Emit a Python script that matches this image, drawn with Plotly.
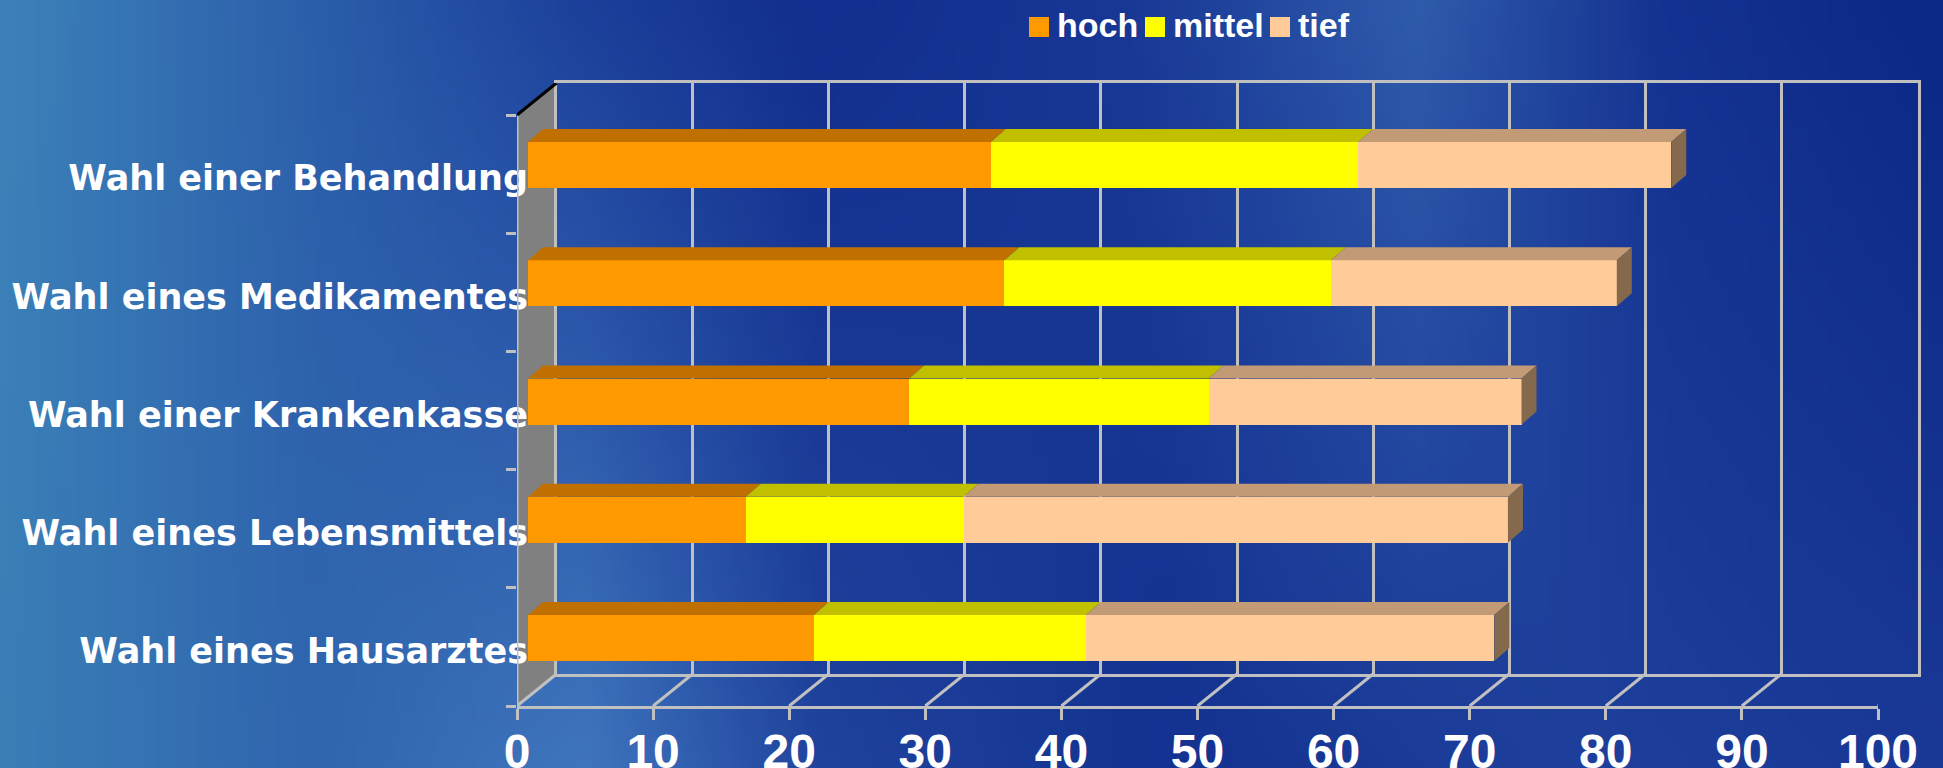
import base64
import struct
import zlib

import numpy as np
import plotly.graph_objects as go

# Daten
kategorien = ["Wahl einer Behandlung", "Wahl eines Medikamentes", "Wahl einer Krankenkasse",
              "Wahl eines Lebensmittels", "Wahl eines Hausarztes"]
hoch = [34, 35, 28, 16, 21]
mittel = [27, 24, 22, 16, 20]
tief = [23, 21, 23, 40, 30]
x_ticks = list(range(0, 101, 10))

serien = [("hoch", hoch, "#ff9900", "#c07000"),
          ("mittel", mittel, "#ffff00", "#c0c000"),
          ("tief", tief, "#ffcc99", "#c29a75")]
seite_farbe = "#85694d"

W, H = 1943, 768
GRAU = "#c0c0c0"

# geometrie in pixeln (pseudo 3d)
FX0, FX100 = 517, 1878          # vordere achse
FY_TOP, FY_BOT = 115, 706       # vordere wand
DX, DY = 39.5, 32               # tiefe boden/wand
BX, BY = 11, 9                  # versatz der balken-ebene
BDX, BDY = 15, 13               # tiefe der balken

px_per_unit = (FX100 - FX0) / 100
px_per_cat = (FY_BOT - FY_TOP) / 5


def dom_x(a, b):
    return [a / W, b / W]


def dom_y(top, bot):
    return [1 - bot / H, 1 - top / H]


# hintergrund als kleines png mit verlauf
def hintergrund_png(w=194, h=77):
    xs = np.linspace(0, 1, w)
    top_stops = [(0, (60, 130, 185)), (0.15, (45, 97, 172)), (0.3, (28, 64, 155)), (0.42, (18, 46, 142)),
                 (0.58, (24, 56, 150)), (0.73, (48, 92, 172)), (0.86, (20, 50, 145)), (1, (12, 40, 135))]
    bot_stops = [(0, (58, 126, 182)), (0.16, (48, 102, 175)), (0.3, (64, 118, 190)), (0.42, (32, 68, 158)),
                 (0.6, (20, 50, 145)), (0.8, (30, 64, 156)), (1, (26, 56, 150))]

    def interp(stops):
        pos = [s[0] for s in stops]
        return np.stack([np.interp(xs, pos, [s[1][k] for s in stops]) for k in range(3)], axis=1)

    top = interp(top_stops)
    bot = interp(bot_stops)
    rows = []
    for j in range(h):
        t = j / (h - 1)
        row = (top * (1 - t) + bot * t).clip(0, 255).astype(np.uint8)
        rows.append(b"\x00" + row.tobytes())
    raw = b"".join(rows)

    def chunk(typ, data):
        c = struct.pack(">I", len(data)) + typ + data
        return c + struct.pack(">I", zlib.crc32(typ + data) & 0xffffffff)

    png = (b"\x89PNG\r\n\x1a\n" + chunk(b"IHDR", struct.pack(">IIBBBBB", w, h, 8, 2, 0, 0, 0))
           + chunk(b"IDAT", zlib.compress(raw)) + chunk(b"IEND", b""))
    return "data:image/png;base64," + base64.b64encode(png).decode()


fig = go.Figure()

# leere spuren damit die achsen gezeichnet werden (zuerst, also ganz unten)
for xa, ya in [("x", "y"), ("x2", "y2"), ("x", "y4")]:
    fig.add_trace(go.Scatter(x=[None], y=[None], xaxis=xa, yaxis=ya, showlegend=False, hoverinfo="skip"))

# balken auf x3/y3 -> wird zuletzt gezeichnet
ypos = [4, 3, 2, 1, 0]
bar_w = 46 / px_per_cat
for name, werte, farbe, _ in serien:
    fig.add_trace(go.Bar(
        x=werte, y=ypos, orientation="h", name=name, width=bar_w,
        marker=dict(color=farbe, line=dict(width=0)),
        xaxis="x3", yaxis="y3", showlegend=False
    ))

shapes = []

# oberseiten und rechte seite der balken
ddx = BDX / px_per_unit
ddy = BDY / px_per_cat
for i, y in enumerate(ypos):
    start = 0
    for name, werte, farbe, oben in serien:
        ende = start + werte[i]
        t = y + bar_w / 2
        shapes.append(dict(type="path", xref="x3", yref="y3", layer="above",
                           path=f"M {start},{t} L {ende},{t} L {ende + ddx},{t + ddy} L {start + ddx},{t + ddy} Z",
                           fillcolor=oben, line=dict(width=0)))
        start = ende
    b = y - bar_w / 2
    t = y + bar_w / 2
    shapes.append(dict(type="path", xref="x3", yref="y3", layer="above",
                       path=f"M {start},{b} L {start},{t} L {start + ddx},{t + ddy} L {start + ddx},{b + ddy} Z",
                       fillcolor=seite_farbe, line=dict(width=0)))

# linke wand (grau) und boden
wdx = DX / px_per_unit
wdy = DY / px_per_cat
y_oben = 4.5 + wdy
shapes.append(dict(type="path", xref="x", yref="y", layer="below",
                   path=f"M 0,-0.5 L 0,4.5 L {wdx},{y_oben} L {wdx},{-0.5 + wdy} Z",
                   fillcolor="#808080", line=dict(width=0)))
shapes.append(dict(type="line", xref="x", yref="y", x0=0, y0=-0.5, x1=0, y1=4.5,
                   line=dict(color=GRAU, width=3)))
shapes.append(dict(type="line", xref="x", yref="y", x0=0, y0=4.5, x1=wdx, y1=y_oben,
                   line=dict(color="black", width=3)))
shapes.append(dict(type="line", xref="x", yref="y", x0=0, y0=-0.5, x1=wdx, y1=-0.5 + wdy,
                   line=dict(color=GRAU, width=3)))
for v in x_ticks[1:]:
    shapes.append(dict(type="line", xref="x", yref="y", x0=v, y0=-0.5, x1=v + wdx, y1=-0.5 + wdy,
                       line=dict(color=GRAU, width=3)))

# legende von hand
legende = [("hoch", "#ff9900", 1029, 1057), ("mittel", "#ffff00", 1145, 1173), ("tief", "#ffcc99", 1270, 1298)]
annotations = []
for text, farbe, qx, tx in legende:
    shapes.append(dict(type="rect", xref="paper", yref="paper", x0=qx / W, x1=(qx + 20) / W,
                       y0=1 - 37 / H, y1=1 - 17 / H, fillcolor=farbe, line=dict(width=0)))
    annotations.append(dict(text=text, xref="paper", yref="paper", x=(tx - 2) / W, y=1 - 25 / H,
                            xanchor="left", yanchor="middle", showarrow=False,
                            font=dict(family="Liberation Sans", size=34, color="white", weight="bold")))

fig.update_layout(
    width=W, height=H,
    margin=dict(l=0, r=0, t=0, b=0, pad=0, autoexpand=False),
    paper_bgcolor="#2a5aa8",
    plot_bgcolor="rgba(0,0,0,0)",
    barmode="stack",
    showlegend=False,
    shapes=shapes,
    annotations=annotations,
    images=[dict(source=hintergrund_png(), xref="paper", yref="paper", x=0, y=1, sizex=1, sizey=1,
                 xanchor="left", yanchor="top", sizing="stretch", layer="below")],
    # vordere achsen, wand und boden
    xaxis=dict(domain=dom_x(FX0, FX100), range=[0, 100], anchor="y",
               tickvals=x_ticks, ticks="outside", ticklen=11, tickwidth=3, tickcolor=GRAU,
               showgrid=False, zeroline=False, showline=True, linecolor=GRAU, linewidth=3,
               automargin=False, fixedrange=True, ticklabelstandoff=-10,
               tickfont=dict(family="Liberation Sans", size=48, color="white", weight="bold")),
    yaxis=dict(domain=dom_y(FY_TOP - DY, FY_BOT), range=[-0.5, y_oben], anchor="x",
               tickvals=[-0.5, 0.5, 1.5, 2.5, 3.5, 4.5], showticklabels=False,
               ticks="outside", ticklen=10, tickwidth=3, tickcolor=GRAU, automargin=False,
               showgrid=False, zeroline=False, showline=False, fixedrange=True),
    # rueckwand mit gitter
    xaxis2=dict(domain=dom_x(FX0 + DX, FX100 + DX), range=[0, 100], anchor="y2",
                tickvals=x_ticks, showticklabels=False, ticks="", showgrid=True, gridcolor=GRAU,
                gridwidth=3, zeroline=False, showline=True, mirror=True, linecolor=GRAU, linewidth=3,
                fixedrange=True),
    yaxis2=dict(domain=dom_y(FY_TOP - DY, FY_BOT - DY), range=[0, 1], anchor="x2",
                showticklabels=False, ticks="", showgrid=False, zeroline=False,
                showline=True, mirror=True, linecolor=GRAU, linewidth=3, fixedrange=True),
    # balken
    xaxis3=dict(domain=dom_x(FX0 + BX, FX0 + BX + 100 * px_per_unit), range=[0, 100], anchor="y3",
                visible=False, fixedrange=True),
    yaxis3=dict(domain=dom_y(FY_TOP - BY, FY_BOT - BY), range=[-0.5, 4.5], anchor="x3",
                visible=False, fixedrange=True),
    # kategorienamen
    yaxis4=dict(overlaying="y", anchor="free", position=(FX0 + BX) / W, range=[-0.5, y_oben],
                tickvals=ypos, ticktext=kategorien, ticks="", showgrid=False, zeroline=False,
                showline=False, automargin=False, fixedrange=True, ticklabelshift=4,
                tickfont=dict(family="DejaVu Sans", size=35, color="white", weight="bold")),
)

fig.write_html("out.html", config={"displayModeBar": False},
               post_script="document.body.style.margin='0';document.body.style.background='#3a7fb8';")
